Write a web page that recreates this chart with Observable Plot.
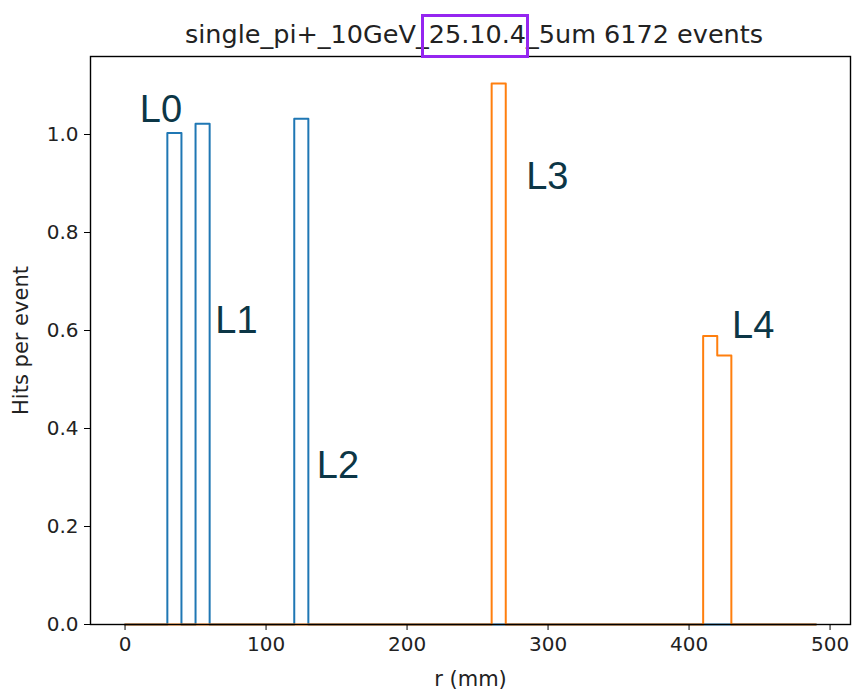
<!DOCTYPE html>
<html>
<head>
<meta charset="utf-8">
<script src="https://cdn.jsdelivr.net/npm/d3@7"></script>
<script src="https://cdn.jsdelivr.net/npm/@observablehq/plot@0.6"></script>
<style>
  html, body { margin: 0; padding: 0; background: #fff; }
  #wrap { width: 856px; height: 692px; position: relative; overflow: hidden; }
  #title {
    height: 50px; box-sizing: border-box;
    padding: 19px 0 0 92px; text-align: center;
    font-family: "DejaVu Sans", sans-serif; font-size: 25.5px; line-height: 30px;
    color: #222; white-space: nowrap;
  }
  .hl { position: relative; }
  .hl::after {
    content: ""; position: absolute; left: -8px; right: -3px; top: -5px; bottom: -9px;
    border: 3px solid #9526f0;
  }
  svg { display: block; }
</style>
</head>
<body>
<div id="wrap">
  <div id="title"></div>
  <div id="chart"></div>
</div>
<script>
// ---- data ----
const titleBefore = "single_pi+_10GeV_";
const titleHighlight = "25.10.4";
const titleAfter = "_5um 6172 events";
const xLabel = "r (mm)";
const yLabel = "Hits per event";

const histMin = 0;          // mm, histogram range start
const histMax = 490;        // mm, histogram range end
const binWidth = 10;        // mm

// series 1 (blue): inner layers
const blueBinStart = [30, 50, 120];
const blueHits = [1.003, 1.022, 1.032];
// series 2 (orange): outer layers
const orangeBinStart = [260, 410, 420];
const orangeHits = [1.104, 0.589, 0.549];

const xTicks = [0, 100, 200, 300, 400, 500];
const yTicks = [0.0, 0.2, 0.4, 0.6, 0.8, 1.0];

const layerNames = ["L0", "L1", "L2", "L3", "L4"];
const layerLabelX = [10.5, 64, 136, 284.5, 430.5];
const layerLabelY = [1.05, 0.62, 0.324, 0.914, 0.61];

// ---- build step histograms ----
function stepSeries(starts, hits, name) {
  const edges = d3.range(histMin, histMax + binWidth / 2, binWidth);
  const lookup = new Map(starts.map((s, i) => [s, hits[i]]));
  return edges.map((e, i) => ({
    x: e,
    y: i === edges.length - 1 ? 0 : (lookup.get(e) ?? 0),
    series: name
  }));
}
const blue = stepSeries(blueBinStart, blueHits, "inner");
const orange = stepSeries(orangeBinStart, orangeHits, "outer");

const allHits = blueHits.concat(orangeHits);
const span = histMax - histMin;
const xDomain = [histMin - 0.05 * span, histMax + 0.05 * span];
const yDomain = [0, d3.max(allHits) * 1.05];

const labels = layerNames.map((n, i) => ({ name: n, x: layerLabelX[i], y: layerLabelY[i] }));

// ---- title ----
const t = document.getElementById("title");
t.append(titleBefore);
const s = document.createElement("span");
s.className = "hl";
s.textContent = titleHighlight;
t.append(s);
t.append(titleAfter);

// ---- plot ----
const chart = Plot.plot({
  width: 856,
  height: 642,
  marginTop: 6,
  marginBottom: 68,
  marginLeft: 90,
  marginRight: 6,
  style: { fontFamily: "DejaVu Sans, sans-serif", fontSize: "20px", color: "#222", background: "#fff" },
  x: { domain: xDomain, ticks: xTicks, tickFormat: d3.format("d"), label: null },
  y: { domain: yDomain, ticks: yTicks, tickFormat: d3.format(".1f"), label: null },
  marks: [
    Plot.line(blue, { x: "x", y: "y", curve: "step-after", stroke: "#1f77b4", strokeWidth: 2 }),
    Plot.line(orange, { x: "x", y: "y", curve: "step-after", stroke: "#ff7f0e", strokeWidth: 2 }),
    Plot.frame({ stroke: "#000", strokeWidth: 1.4 }),
    Plot.axisX({ ticks: xTicks, tickFormat: d3.format("d"), tickSize: 6, tickPadding: 6, label: null, stroke: "#000", fontSize: 20 }),
    Plot.axisY({ ticks: yTicks, tickFormat: d3.format(".1f"), tickSize: 6, tickPadding: 6, label: null, stroke: "#000", fontSize: 20 }),
    Plot.text([xLabel], { frameAnchor: "bottom", dy: 61, text: d => d, fontSize: 21, fill: "#222" }),
    Plot.text([yLabel], { frameAnchor: "left", dx: -69, rotate: -90, textAnchor: "middle", text: d => d, fontSize: 21, fill: "#222" }),
    Plot.text(labels, { x: "x", y: "y", text: "name", textAnchor: "start", fontSize: 38, fill: "#0c3646", fontFamily: "Liberation Sans, Arial, sans-serif" })
  ]
});
document.getElementById("chart").append(chart);
</script>
</body>
</html>
